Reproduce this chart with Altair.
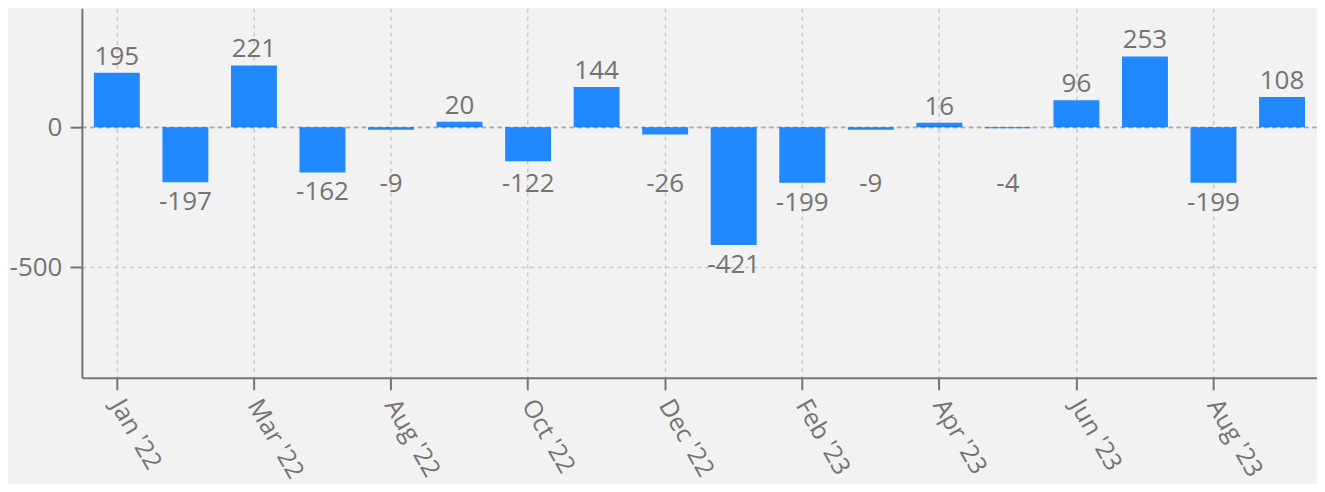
import altair as alt
import pandas as pd

months = ["Jan '22", "Feb '22", "Mar '22", "Jun '22", "Aug '22", "Sep '22",
          "Oct '22", "Nov '22", "Dec '22", "Jan '23", "Feb '23", "Mar '23",
          "Apr '23", "May '23", "Jun '23", "Jul '23", "Aug '23", "Sep '23"]
values = [195, -197, 221, -162, -9, 20, -122, 144, -26, -421, -199, -9,
          16, -4, 96, 253, -199, 108]
tick_labels = ["Jan '22", "Mar '22", "Aug '22", "Oct '22", "Dec '22",
               "Feb '23", "Apr '23", "Jun '23", "Aug '23"]
y_ticks = [0, -500]

df = pd.DataFrame({"month": months, "value": values})

FONT = "Open Sans"
GRAY = "#737373"
GRID = "#c8c8c8"

x_enc = alt.X(
    "month:N", sort=months, title=None,
    scale=alt.Scale(paddingInner=0.33, paddingOuter=0.175),
    axis=alt.Axis(values=tick_labels, labelAngle=60, labelAlign="left",
                  labelBaseline="middle", labelFontSize=25, labelColor=GRAY,
                  labelFont=FONT, labelPadding=11, tickSize=12, tickColor=GRAY,
                  tickWidth=2, domainColor=GRAY, domainWidth=2, grid=True,
                  gridColor=GRID, gridDash=[4, 4], gridWidth=1.5),
)
y_scale = alt.Scale(domain=[-896, 425], nice=False, zero=False)

bars = alt.Chart(df).mark_bar(color="#2288ff").encode(
    x=x_enc,
    y=alt.Y("value:Q", scale=y_scale, title=None,
            axis=alt.Axis(values=y_ticks, labelFontSize=26, labelColor=GRAY,
                          labelFont=FONT, labelPadding=8, tickSize=12,
                          labelExpr="toString(datum.value)",
                          tickColor=GRAY, tickWidth=2, domainColor=GRAY,
                          domainWidth=2, grid=True, gridColor=GRID,
                          gridDash=[4, 4], gridWidth=1.5)),
)

zero_rule = alt.Chart(pd.DataFrame({"y": [0]})).mark_rule(
    color="#000000", strokeOpacity=0.16, strokeDash=[5, 3], strokeWidth=2
).encode(y=alt.Y("y:Q", scale=y_scale))

pos_labels = alt.Chart(df).transform_filter("datum.value >= 0").transform_calculate(
    txt="toString(datum.value)"
).mark_text(
    baseline="middle", dy=-16, fontSize=26, font=FONT, color=GRAY
).encode(x=alt.X("month:N", sort=months), y=alt.Y("value:Q", scale=y_scale),
         text="txt:N")

neg_labels = alt.Chart(df).transform_filter("datum.value < 0").transform_calculate(
    lab="min(datum.value, -132)", txt="toString(datum.value)"
).mark_text(
    baseline="middle", dy=20, fontSize=26, font=FONT, color=GRAY
).encode(x=alt.X("month:N", sort=months), y=alt.Y("lab:Q", scale=y_scale),
         text="txt:N")

chart = alt.layer(bars, zero_rule, pos_labels, neg_labels).properties(
    width=1237, height=370,
    padding={"left": 74, "top": 0, "right": 0, "bottom": 106},
    autosize=alt.AutoSizeParams(type="none"),
    background="#f2f2f2",
).configure_view(stroke=None)

chart.save("out.html", embed_options={"renderer": "svg", "actions": False})
